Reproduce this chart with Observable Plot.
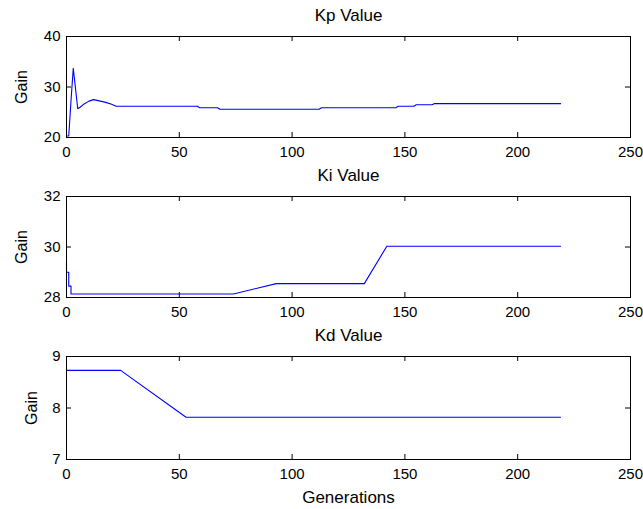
<!DOCTYPE html>
<html>
<head>
<meta charset="utf-8">
<script src="https://cdn.jsdelivr.net/npm/d3@7"></script>
<script src="https://cdn.jsdelivr.net/npm/@observablehq/plot@0.6"></script>
<style>
  html, body { margin: 0; padding: 0; background: #ffffff; }
  #chart svg { display: block; }
</style>
</head>
<body>
<div id="chart"></div>
<script>
// ---- Data ----
const xTicks = [0, 50, 100, 150, 200, 250];

const kpTitle = "Kp Value";
const kpGen = [0, 1, 2, 3, 5, 6, 8, 10, 12, 14, 17, 20, 22, 58, 59, 67, 68, 112, 113, 146, 147, 154, 155, 162, 163, 219];
const kpVal = [20.3, 20.3, 27.3, 33.7, 25.7, 26.0, 26.7, 27.2, 27.5, 27.3, 27.0, 26.6, 26.2, 26.2, 25.9, 25.9, 25.6, 25.6, 25.9, 25.9, 26.2, 26.2, 26.5, 26.5, 26.7, 26.7];
const kpTicks = [20, 30, 40];

const kiTitle = "Ki Value";
const kiGen = [0, 0, 1, 1, 2, 2, 74, 93, 132, 142, 219];
const kiVal = [29.4, 29.0, 29.0, 28.45, 28.45, 28.14, 28.14, 28.55, 28.55, 30.03, 30.03];
const kiTicks = [28, 30, 32];

const kdTitle = "Kd Value";
const kdGen = [0, 24, 53, 219];
const kdVal = [8.73, 8.73, 7.82, 7.82];
const kdTicks = [7, 8, 9];

const yLabel = "Gain";
const xLabel = "Generations";

// ---- Layout ----
const W = 643, ML = 66, MR = 13, MT = 36;
const FONT = "'Liberation Sans', Arial, sans-serif";

function panel({title, gens, vals, yTicks, height, marginBottom, gainDx, xlabel}) {
  const iw = W - ML - MR;
  const ih = height - MT - marginBottom;
  const rows = gens.map((g, i) => ({g, v: vals[i]}));
  const fmt = d3.format("d");
  const marks = [
    Plot.axisX(xTicks, {tickSize: 0, tickPadding: 9, label: null, fill: "black", tickFormat: fmt}),
    Plot.axisY(yTicks, {tickSize: 0, tickPadding: 6, label: null, fill: "black", tickFormat: fmt}),
    Plot.ruleX(xTicks, {x: d => d, insetTop: ih - 5, stroke: "black"}),
    Plot.ruleX(xTicks, {x: d => d, insetBottom: ih - 5, stroke: "black"}),
    Plot.ruleY(yTicks, {y: d => d, insetRight: iw - 5, stroke: "black"}),
    Plot.ruleY(yTicks, {y: d => d, insetLeft: iw - 5, stroke: "black"}),
    Plot.line(rows, {x: "g", y: "v", stroke: "#0000ff", strokeWidth: 1.1}),
    Plot.frame({stroke: "black"}),
    Plot.text([title], {frameAnchor: "top", dy: -21, lineAnchor: "middle", textAnchor: "middle", fill: "black", fontSize: 17}),
    Plot.text([yLabel], {frameAnchor: "left", dx: gainDx, rotate: -90, textAnchor: "middle", lineAnchor: "middle", fill: "black", fontSize: 16})
  ];
  if (xlabel) {
    marks.push(Plot.text([xlabel], {frameAnchor: "bottom", dy: 38, lineAnchor: "middle", textAnchor: "middle", fill: "black", fontSize: 17}));
  }
  return Plot.plot({
    width: W,
    height,
    marginLeft: ML,
    marginRight: MR,
    marginTop: MT,
    marginBottom,
    style: {fontFamily: FONT, fontSize: "15px", color: "black", background: "white", overflow: "visible"},
    x: {domain: [0, 250]},
    y: {domain: [yTicks[0], yTicks[yTicks.length - 1]]},
    marks
  });
}

const chart = document.getElementById("chart");
chart.appendChild(panel({title: kpTitle, gens: kpGen, vals: kpVal, yTicks: kpTicks, height: 160, marginBottom: 23, gainDx: -45}));
chart.appendChild(panel({title: kiTitle, gens: kiGen, vals: kiVal, yTicks: kiTicks, height: 160, marginBottom: 23, gainDx: -45}));
chart.appendChild(panel({title: kdTitle, gens: kdGen, vals: kdVal, yTicks: kdTicks, height: 189, marginBottom: 50, gainDx: -35, xlabel: xLabel}));
</script>
</body>
</html>
